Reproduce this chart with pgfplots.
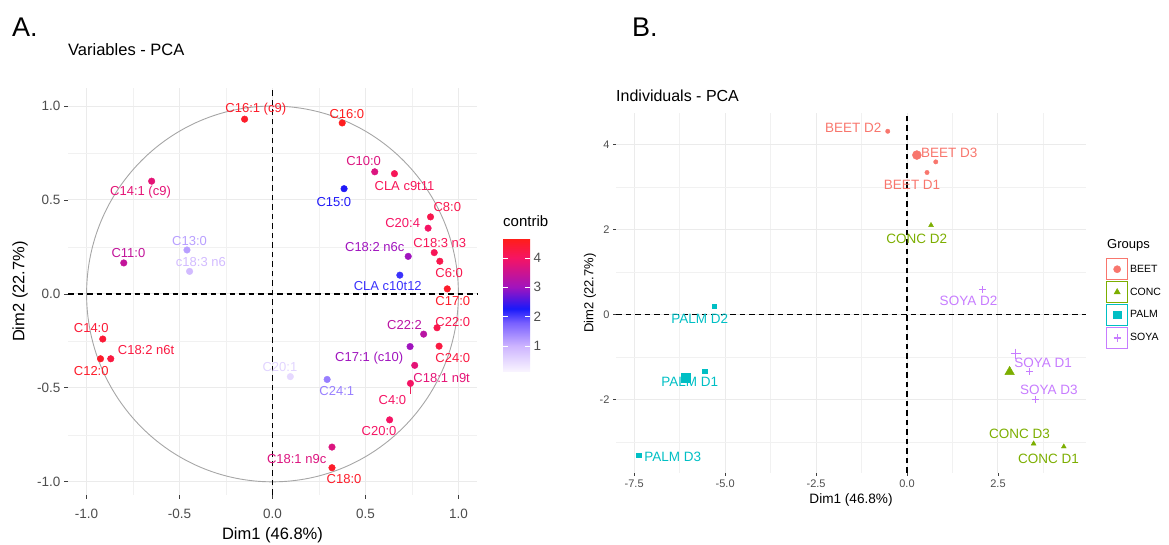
\documentclass[border=0pt]{standalone}
\usepackage{pgfplots}
\pgfplotsset{compat=1.18}
\usepackage{pgfplotstable}
\usepackage{fontspec}
\setmainfont{Liberation Sans}

\definecolor{gridgray}{RGB}{235,235,235}
\definecolor{ticktext}{RGB}{77,77,77}
\definecolor{beet}{HTML}{F8766D}
\definecolor{conc}{HTML}{7CAE00}
\definecolor{palm}{HTML}{00BFC4}
\definecolor{soya}{HTML}{C77CFF}

\newcommand{\fs}[1]{\fontsize{#1}{#1}\selectfont}

\pgfplotsset{
  colormap={contribmap}{rgb255(11)=(250,246,255) rgb255(100)=(205,180,255)
    rgb255(180)=(120,95,255) rgb255(227)=(25,25,250) rgb255(300)=(160,20,190)
    rgb255(400)=(245,20,100) rgb255(465)=(255,30,25)},
  ggbase/.style={
    scale only axis,
    axis line style={draw=none},
    grid=both,
    major grid style={color=gridgray, line width=1pt},
    minor grid style={color=gridgray!70, line width=0.6pt},
    tick align=outside,
    major tick length=4pt,
    minor tick length=0pt,
    xtick pos=left, ytick pos=left,
    tick style={color=black!75, line width=0.8pt},
    clip=false,
  },
  gleg/.style={legend image code/.code={%
    \draw[draw=#1, line width=0.9pt, fill=white] (0pt,-10.5pt) rectangle (21pt,10.5pt);
    \draw[##1, mark size=3.6pt] plot coordinates {(10.5pt,0pt)};}},
  glab/.style={only marks, mark=none, forget plot, point meta=explicit symbolic,
    nodes near coords,
    every node near coord/.append style={anchor=center, text=#1, font=\fs{13.5}, inner sep=0pt}},
  zeroline/.style={black, line width=1.2pt, dash pattern=on 5.5pt off 4pt, forget plot},
}

% variables: coordinates, contribution, label position, label colour
\pgfplotstableread{
x y c lx ly r g b label
-0.150 0.930 4.5 -0.090 0.986 253 28 42 {C16:1 (c9)}
0.375 0.910 4.6 0.400 0.960 254 29 31 {C16:0}
0.550 0.650 3.7 0.490 0.710 220 20 127 {C10:0}
0.656 0.640 4.1 0.710 0.574 247 22 88 {CLA c9t11}
0.385 0.560 2.3 0.330 0.490 31 25 248 {C15:0}
-0.650 0.600 3.8 -0.710 0.540 228 20 118 {C14:1 (c9)}
0.850 0.410 4.2 0.940 0.460 248 23 77 {C8:0}
0.837 0.350 4.0 0.700 0.380 245 20 100 {C20:4}
0.870 0.220 4.1 0.900 0.270 247 22 88 {C18:3 n3}
0.900 0.174 4.2 0.950 0.110 248 23 77 {C6:0}
0.730 0.200 3.0 0.550 0.250 160 20 190 {C18:2 n6c}
0.685 0.100 2.1 0.620 0.040 59 50 252 {CLA c10t12}
0.940 0.027 4.5 0.970 -0.037 253 28 42 {C17:0}
-0.800 0.165 3.4 -0.775 0.220 194 20 154 {C11:0}
-0.460 0.234 1.2 -0.446 0.284 184 159 255 {C13:0}
-0.446 0.120 0.9 -0.385 0.172 210 187 255 {c18:3 n6}
-0.913 -0.240 4.4 -0.975 -0.180 251 26 54 {C14:0}
-0.925 -0.345 4.5 -0.975 -0.410 253 28 42 {C12:0}
-0.870 -0.345 4.3 -0.680 -0.300 250 25 65 {C18:2 n6t}
0.813 -0.214 3.3 0.710 -0.165 186 20 163 {C22:2}
0.885 -0.180 4.2 0.970 -0.147 248 23 77 {C22:0}
0.740 -0.280 3.0 0.520 -0.340 160 20 190 {C17:1 (c10)}
0.896 -0.278 4.3 0.970 -0.340 250 25 65 {C24:0}
0.765 -0.380 3.8 0.910 -0.450 228 20 118 {C18:1 n9t}
0.742 -0.476 4.0 0.645 -0.566 245 20 100 {C4:0}
0.096 -0.440 0.5 0.040 -0.390 225 212 255 {C20:1}
0.294 -0.455 1.5 0.346 -0.515 152 127 255 {C24:1}
0.630 -0.670 4.0 0.573 -0.730 245 20 100 {C20:0}
0.320 -0.815 3.7 0.130 -0.876 220 20 127 {C18:1 n9c}
0.320 -0.925 4.5 0.385 -0.987 253 28 42 {C18:0}
}\vardata

% individuals
\pgfplotstableread{
x y lx ly label
-0.53 4.32 -1.48 4.40 {BEET D2}
0.79 3.60 1.16 3.82 {BEET D3}
0.55 3.35 0.14 3.06 {BEET D1}
}\beet
\pgfplotstableread{
x y lx ly label
0.66 2.11 0.27 1.80 {CONC D2}
3.48 -3.03 3.09 -2.81 {CONC D3}
4.31 -3.10 3.89 -3.39 {CONC D1}
}\conc
\pgfplotstableread{
x y lx ly label
-5.30 0.20 -5.70 -0.10 {PALM D2}
-5.56 -1.32 -5.97 -1.58 {PALM D1}
-7.38 -3.30 -6.44 -3.33 {PALM D3}
}\palm
\pgfplotstableread{
x y lx ly label
2.08 0.59 1.69 0.33 {SOYA D2}
3.37 -1.34 3.74 -1.13 {SOYA D1}
3.52 -1.99 3.90 -1.76 {SOYA D3}
}\soya

\begin{document}
\begin{tikzpicture}[x=1pt,y=1pt]
\path[use as bounding box] (0,0) rectangle (1169,545);
\node[anchor=base west, font=\fs{27}, inner sep=0pt] at (12,508) {A.};
\node[anchor=base west, font=\fs{27}, inner sep=0pt] at (632,508) {B.};

% ---------- A: variables ----------
\begin{axis}[ggbase,
  at={(68pt,50pt)}, anchor=south west,
  width=409pt, height=407pt,
  xmin=-1.1, xmax=1.1, ymin=-1.07, ymax=1.096,
  xtick={-1,-0.5,0,0.5,1}, xticklabels={-1.0,-0.5,0.0,0.5,1.0},
  ytick={-1,-0.5,0,0.5,1}, yticklabels={-1.0,-0.5,0.0,0.5,1.0},
  minor xtick={-0.75,-0.25,0.25,0.75}, minor ytick={-0.75,-0.25,0.25,0.75},
  ticklabel style={font=\fs{13.5}, text=ticktext},
  xticklabel style={yshift=-7pt},
  title={Variables - PCA},
  title style={at={(0,1)}, anchor=base west, yshift=26pt, font=\fs{16.5}, inner sep=0pt},
  xlabel={Dim1 (46.8\%)}, ylabel={Dim2 (22.7\%)},
  xlabel style={at={(axis description cs:0.5,-0.098)}, anchor=center, font=\fs{16.5}, inner sep=0pt},
  ylabel style={at={(axis description cs:-0.117,0.5)}, anchor=center, font=\fs{16.5}, inner sep=0pt},
  colormap name=contribmap,
  point meta min=0.11, point meta max=4.65,
  colorbar,
  colorbar/width=27pt,
  colorbar style={
    at={(parent axis.south east)}, anchor=south west,
    xshift=17.5pt, yshift=123pt,
    height=133pt,
    axis line style={draw=none},
    ytick={1,2,3,4}, yticklabels={1,2,3,4},
    yticklabel style={font=\fs{13.5}, text=ticktext},
    tick align=inside, major tick length=5pt,
    ytick style={color=white, line width=0.8pt},
    ytick pos=both, yticklabel pos=right,
    title={contrib},
    title style={at={(0,1)}, anchor=base west, yshift=6pt, font=\fs{15}, inner sep=0pt},
  },
]
\draw[color=black!35, line width=0.9pt] (axis cs:0,0) ellipse [x radius=1, y radius=1];
\addplot[zeroline] coordinates {(0,-1.07) (0,1.096)};
\addplot[zeroline] coordinates {(-1.1,0) (1.1,0)};
\addplot[color={rgb,255:red,235;green,30;blue,90}, line width=0.7pt, forget plot] coordinates {(0.742,-0.49) (0.742,-0.535)};
\addplot[scatter, only marks, mark=*, mark size=3.3pt, point meta=explicit,
  scatter/use mapped color={draw=mapped color, fill=mapped color}]
  table[x=x, y=y, meta=c] {\vardata};
\addplot[only marks, mark=none, forget plot, point meta=explicit symbolic,
  visualization depends on={\thisrow{r}\as\lr},
  visualization depends on={\thisrow{g}\as\lg},
  visualization depends on={\thisrow{b}\as\lb},
  nodes near coords,
  every node near coord/.append style={anchor=center, font=\fs{13}, inner sep=0pt,
    text={rgb,255:red,\lr;green,\lg;blue,\lb}}]
  table[x=lx, y=ly, meta=label] {\vardata};
\end{axis}

% ---------- B: individuals ----------
\begin{axis}[ggbase,
  at={(616pt,72pt)}, anchor=south west,
  width=470pt, height=360pt,
  xmin=-8.0, xmax=4.92, ymin=-3.72, ymax=4.75,
  xtick={-7.5,-5,-2.5,0,2.5}, xticklabels={-7.5,-5.0,-2.5,0.0,2.5},
  minor xtick={-6.25,-3.75,-1.25,1.25,3.75},
  ytick={-2,0,2,4}, yticklabels={-2,0,2,4},
  minor ytick={-3,-1,1,3},
  major tick length=3pt,
  ticklabel style={font=\fs{11}, text=ticktext},
  title={Individuals - PCA},
  title style={at={(0,1)}, anchor=base west, yshift=5pt, font=\fs{16}, inner sep=0pt},
  xlabel={Dim1 (46.8\%)}, ylabel={Dim2 (22.7\%)},
  xlabel style={at={(axis description cs:0.5,-0.075)}, anchor=center, font=\fs{13.6}, inner sep=0pt},
  ylabel style={at={(axis description cs:-0.0553,0.5)}, anchor=center, font=\fs{13}, inner sep=0pt},
  legend style={at={(1.0426,0.597)}, anchor=north west, draw=none, fill=none,
    font=\fs{10.5}, row sep=1pt, inner sep=0pt},
  legend cell align=left,
]
\addplot[zeroline] coordinates {(0,-3.72) (0,4.75)};
\addplot[zeroline] coordinates {(-8.0,0) (4.92,0)};

\addplot[beet, only marks, mark=*, mark size=2.2pt, forget plot] table[x=x,y=y] {\beet};
\addplot[conc, only marks, mark=triangle*, mark size=2.8pt, forget plot] table[x=x,y=y] {\conc};
\addplot[palm, only marks, mark=square*, mark size=2.2pt, forget plot] table[x=x,y=y] {\palm};
\addplot[soya, only marks, mark=+, mark size=3.5pt, line width=1pt, forget plot] table[x=x,y=y] {\soya};

\addplot[beet, only marks, mark=*, mark size=4.5pt, gleg=beet] coordinates {(0.27,3.76)};
\addlegendentry{BEET}
\addplot[conc, only marks, mark=triangle*, mark size=5.5pt, gleg=conc] coordinates {(2.82,-1.34)};
\addlegendentry{CONC}
\addplot[palm, only marks, mark=square*, mark size=4.5pt, gleg=palm] coordinates {(-6.08,-1.47)};
\addlegendentry{PALM}
\addplot[soya, only marks, mark=+, mark size=5pt, line width=1.2pt, gleg=soya] coordinates {(2.99,-0.91)};
\addlegendentry{SOYA}

\addplot[glab=beet] table[x=lx,y=ly,meta=label] {\beet};
\addplot[glab=conc] table[x=lx,y=ly,meta=label] {\conc};
\addplot[glab=palm] table[x=lx,y=ly,meta=label] {\palm};
\addplot[glab=soya] table[x=lx,y=ly,meta=label] {\soya};
\end{axis}
\node[anchor=base west, font=\fs{13}, inner sep=0pt] at (1107,296) {Groups};
\end{tikzpicture}
\end{document}
